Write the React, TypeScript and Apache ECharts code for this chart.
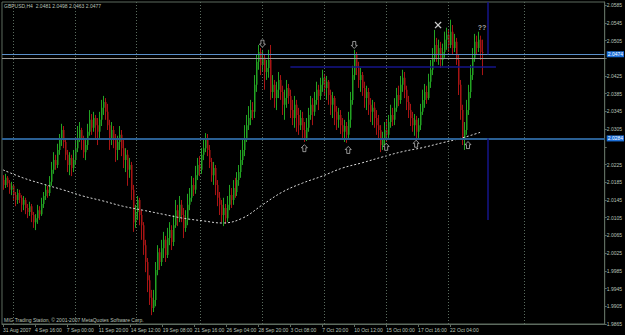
import React, { useEffect, useRef } from "react";
import * as echarts from "echarts";

// ---- data (GBPUSD H4) ----
const firstOpen = 2.019;
const closes = [
  2.0179, 2.0195, 2.0183, 2.0168, 2.0177, 2.0156, 2.0145, 2.0161, 2.015, 2.0134,
  2.0145, 2.0127, 2.0118, 2.0131, 2.0111, 2.0095, 2.0104, 2.0122, 2.0113, 2.0136,
  2.0154, 2.0168, 2.0161, 2.0186, 2.0213, 2.0235, 2.0224, 2.0258, 2.0281, 2.0303,
  2.0276, 2.0247, 2.0224, 2.024, 2.0217, 2.0235, 2.0262, 2.0285, 2.0303, 2.0281,
  2.0253, 2.0269, 2.0299, 2.0326, 2.0308, 2.033, 2.0314, 2.0299, 2.0326, 2.0353,
  2.0366, 2.0344, 2.0314, 2.0285, 2.0303, 2.0281, 2.0258, 2.0276, 2.0292, 2.0262,
  2.0235, 2.0247, 2.0213, 2.0224, 2.0168, 2.0095, 2.0118, 2.0145, 2.0111, 2.0088,
  2.0043, 2.0005, 1.9964, 1.9924, 1.9901, 1.9919, 1.9987, 2.0027, 2.0005, 2.0036,
  2.0055, 2.0021, 2.0059, 2.0077, 2.005, 2.0088, 2.0122, 2.0104, 2.0134, 2.0111,
  2.0082, 2.01, 2.0134, 2.015, 2.0179, 2.0168, 2.0201, 2.0224, 2.0213, 2.0247,
  2.0262, 2.0281, 2.0258, 2.0231, 2.0201, 2.0217, 2.0179, 2.015, 2.0134, 2.0111,
  2.0127, 2.0104, 2.0134, 2.0156, 2.0145, 2.0172, 2.0163, 2.019, 2.0208, 2.0235,
  2.0258, 2.0285, 2.0314, 2.033, 2.0348, 2.0344, 2.0405, 2.0457, 2.0479, 2.045,
  2.0466, 2.0434, 2.0443, 2.0461, 2.0389, 2.0405, 2.0375, 2.0394, 2.0416, 2.0389,
  2.036, 2.0375, 2.0398, 2.038, 2.0348, 2.033, 2.036, 2.0337, 2.0314, 2.033,
  2.0303, 2.0285, 2.0308, 2.0337, 2.036, 2.0344, 2.0371, 2.0394, 2.038, 2.0405,
  2.0421, 2.0398, 2.0412, 2.0382, 2.036, 2.0375, 2.0344, 2.0326, 2.0337, 2.0314,
  2.0299, 2.0312, 2.0292, 2.0326, 2.0371, 2.0427, 2.0473, 2.0443, 2.0416, 2.0427,
  2.0398, 2.0375, 2.0389, 2.036, 2.0344, 2.0353, 2.033, 2.0314, 2.0303, 2.0269,
  2.0281, 2.0303, 2.0292, 2.0321, 2.0337, 2.0326, 2.0353, 2.0382, 2.0371, 2.0405,
  2.0421, 2.0394, 2.0366, 2.0348, 2.033, 2.0314, 2.0326, 2.0299, 2.0314, 2.0344,
  2.0371, 2.0389, 2.0375, 2.0412, 2.0439, 2.0466, 2.0495, 2.0473, 2.0488, 2.0461,
  2.0479, 2.0507, 2.0518, 2.0495, 2.0525, 2.0488, 2.0502, 2.0461, 2.0405, 2.0348,
  2.0285, 2.0303, 2.0348, 2.0389, 2.0427, 2.0466, 2.0502, 2.0488, 2.0507, 2.0479, 2.0477,
];
const highs = [
  2.0201, 2.0204, 2.0199, 2.019, 2.0186, 2.0181, 2.0163, 2.017, 2.0168, 2.0156,
  2.0154, 2.015, 2.0136, 2.0141, 2.0136, 2.0118, 2.0113, 2.0134, 2.0131, 2.015,
  2.0163, 2.0181, 2.0177, 2.0199, 2.0231, 2.0253, 2.0247, 2.0272, 2.0294, 2.0317,
  2.0312, 2.0285, 2.0258, 2.0253, 2.0247, 2.0258, 2.0281, 2.0312, 2.0321, 2.0308,
  2.029, 2.0285, 2.0317, 2.0348, 2.0339, 2.0344, 2.0337, 2.033, 2.0344, 2.0371,
  2.038, 2.0375, 2.0362, 2.0326, 2.0321, 2.0312, 2.0294, 2.029, 2.0312, 2.0303,
  2.0281, 2.0262, 2.0258, 2.024, 2.0231, 2.0179, 2.0134, 2.0154, 2.015, 2.0122,
  2.0095, 2.0055, 2.0014, 1.9975, 1.9942, 1.9942, 2.0005, 2.0043, 2.0036, 2.0055,
  2.0073, 2.0064, 2.0082, 2.0095, 2.0088, 2.0111, 2.0145, 2.0134, 2.0154, 2.0145,
  2.0127, 2.0122, 2.0159, 2.0172, 2.0199, 2.0195, 2.0222, 2.024, 2.0244, 2.0262,
  2.0281, 2.0296, 2.0294, 2.0269, 2.024, 2.0231, 2.0224, 2.019, 2.0163, 2.0145,
  2.015, 2.0136, 2.0154, 2.0179, 2.0172, 2.019, 2.0195, 2.0208, 2.0224, 2.0258,
  2.0281, 2.0314, 2.0337, 2.0357, 2.0371, 2.0366, 2.0427, 2.0473, 2.0495, 2.0488,
  2.0484, 2.0473, 2.0461, 2.0484, 2.0495, 2.0427, 2.0416, 2.0412, 2.0434, 2.0427,
  2.0403, 2.0394, 2.0416, 2.0407, 2.0394, 2.0371, 2.038, 2.0371, 2.0353, 2.0348,
  2.0344, 2.0321, 2.033, 2.0353, 2.038, 2.0375, 2.0389, 2.0412, 2.0405, 2.0421,
  2.0439, 2.043, 2.0425, 2.0416, 2.0394, 2.0389, 2.038, 2.0357, 2.0353, 2.0348,
  2.033, 2.0326, 2.0321, 2.0344, 2.0389, 2.0448, 2.0484, 2.0479, 2.0457, 2.0443,
  2.0434, 2.0412, 2.0403, 2.0398, 2.0375, 2.0371, 2.0366, 2.0348, 2.0337, 2.0314,
  2.0299, 2.0321, 2.0326, 2.0337, 2.036, 2.0353, 2.0375, 2.0398, 2.0403, 2.0425,
  2.0439, 2.0434, 2.0403, 2.038, 2.0362, 2.0344, 2.0339, 2.0335, 2.033, 2.0362,
  2.0394, 2.0407, 2.0403, 2.043, 2.0461, 2.0488, 2.0529, 2.0511, 2.0507, 2.0502,
  2.0498, 2.0525, 2.0534, 2.0529, 2.0552, 2.054, 2.052, 2.0511, 2.0473, 2.0416,
  2.036, 2.0321, 2.0371, 2.0405, 2.045, 2.0488, 2.052, 2.0516, 2.0525, 2.0516, 2.0507,
];
const lows = [
  2.0168, 2.0172, 2.0174, 2.0159, 2.0156, 2.0145, 2.0131, 2.0136, 2.0138, 2.0118,
  2.0122, 2.0113, 2.0104, 2.0109, 2.0095, 2.0082, 2.0077, 2.0091, 2.01, 2.0109,
  2.0127, 2.0145, 2.015, 2.0154, 2.0177, 2.0204, 2.0213, 2.0217, 2.0247, 2.0267,
  2.0262, 2.0235, 2.0208, 2.0201, 2.0199, 2.0208, 2.0226, 2.0253, 2.0276, 2.0258,
  2.024, 2.0235, 2.0258, 2.029, 2.0292, 2.0299, 2.0281, 2.0269, 2.0285, 2.0312,
  2.0337, 2.0326, 2.0303, 2.0258, 2.0269, 2.0262, 2.0231, 2.0235, 2.0258, 2.0244,
  2.0217, 2.0208, 2.0177, 2.0195, 2.0145, 2.0073, 2.0082, 2.01, 2.0088, 2.0055,
  2.0021, 1.9982, 1.9937, 1.9908, 1.9885, 1.9892, 1.9905, 1.9975, 1.9987, 1.9996,
  2.0014, 2.0005, 2.0014, 2.0043, 2.0032, 2.0041, 2.0082, 2.0086, 2.0095, 2.0095,
  2.0059, 2.0073, 2.0088, 2.0122, 2.0141, 2.0154, 2.0159, 2.019, 2.0199, 2.0204,
  2.0235, 2.0253, 2.0244, 2.0217, 2.0186, 2.0179, 2.0156, 2.0131, 2.0111, 2.0095,
  2.0086, 2.0091, 2.0095, 2.0122, 2.0127, 2.0134, 2.015, 2.0154, 2.0177, 2.0195,
  2.0224, 2.0244, 2.0276, 2.0303, 2.0314, 2.0326, 2.033, 2.0389, 2.0439, 2.0427,
  2.0434, 2.0394, 2.0416, 2.0421, 2.0371, 2.0375, 2.0353, 2.0348, 2.0375, 2.0371,
  2.0337, 2.0326, 2.0353, 2.0362, 2.033, 2.0314, 2.0308, 2.0299, 2.0292, 2.0303,
  2.0285, 2.0276, 2.0278, 2.0299, 2.0326, 2.0314, 2.0335, 2.036, 2.0348, 2.0371,
  2.0389, 2.038, 2.0371, 2.036, 2.0337, 2.033, 2.0314, 2.0303, 2.0308, 2.0294,
  2.0281, 2.0276, 2.0274, 2.0281, 2.0308, 2.036, 2.0416, 2.0427, 2.0398, 2.0389,
  2.038, 2.0353, 2.0348, 2.0337, 2.0321, 2.0314, 2.0308, 2.0292, 2.0281, 2.0253,
  2.0258, 2.0267, 2.0276, 2.0285, 2.0308, 2.0312, 2.0314, 2.0344, 2.0357, 2.0362,
  2.0389, 2.0375, 2.0348, 2.033, 2.0312, 2.0299, 2.029, 2.0281, 2.0285, 2.0303,
  2.0337, 2.0353, 2.0362, 2.0371, 2.0398, 2.0427, 2.0457, 2.0457, 2.045, 2.0443,
  2.0448, 2.0466, 2.0484, 2.0479, 2.0488, 2.0473, 2.0479, 2.045, 2.0382, 2.0326,
  2.0269, 2.0258, 2.0292, 2.0337, 2.0375, 2.0416, 2.0457, 2.0473, 2.0479, 2.0461, 2.0427,
];

// moving average, sampled every 10 bars
const maIndex = [0, 10, 20, 30, 40, 50, 60, 70, 80, 90, 100, 110, 120, 130, 140, 150, 160, 170, 180, 190, 200, 210, 220, 230, 240];
const maValues = [2.0213, 2.0195, 2.0181, 2.0168, 2.0154, 2.0143, 2.0131, 2.0122, 2.0113, 2.0104, 2.0098, 2.0093, 2.0104, 2.0134, 2.0163, 2.0183, 2.0199, 2.0217, 2.0229, 2.0242, 2.0254, 2.0263, 2.0274, 2.0285, 2.0299];

// x-axis tick labels
const tickIndex = [0, 16, 32, 48, 64, 80, 96, 112, 128, 144, 160, 176, 192, 208, 224];
const tickLabels = [
  "31 Aug 2007", "4 Sep 16:00", "7 Sep 00:00", "11 Sep 20:00", "14 Sep 12:00",
  "19 Sep 08:00", "21 Sep 16:00", "26 Sep 04:00", "28 Sep 20:00", "3 Oct 08:00",
  "7 Oct 20:00", "10 Oct 12:00", "15 Oct 00:00", "17 Oct 16:00", "22 Oct 04:00",
];
const weekGridIndex = [5, 36, 67, 99, 130, 161, 192, 223, 261];

// levels & markers
const bidLevel = 2.0474;
const askLevel = 2.0466;
const supportLevel = 2.0284;
const resistanceLevel = 2.0446;
const resistanceRange = [144, 247];
const vLineIndex = 243;
const vLineLowEnd = 2.01;
const upArrows = [[151, 2.0262], [173, 2.0258], [192, 2.0265], [207, 2.0272], [233, 2.0269]];
const downArrows = [[130, 2.0498], [176, 2.0495]];
const crossMark = [[218, 2.054]];
const questionMark = [[240, 2.0534]];

const titleText = "GBPUSD,H4  2.0481 2.0498 2.0463 2.0477";
const footerText = "MIG Trading Station, © 2001-2007 MetaQuotes Software Corp.";

const BASE = 1.9865;
const TOP = 727;
const SLOTS = 302;
const toP = (p: number) => Math.round((p - BASE) * 100000) / 10;

const AX = "#5d6b5f";
const TXT = "#b9c3b9";
const FONT = "'Liberation Sans', Arial, sans-serif";
const UP = "#22a322";
const DOWN = "#a81414";

export default function App() {
  const ref = useRef<HTMLDivElement>(null);
  useEffect(() => {
    if (!ref.current) return;
    const chart = echarts.init(ref.current, null, { renderer: "svg" });
    const cats = Array.from({ length: SLOTS }, (_, i) => {
      const k = tickIndex.indexOf(i);
      return k >= 0 ? tickLabels[k] : "";
    });
    const bars = closes.map((c, i) => {
      const o = i === 0 ? firstOpen : closes[i - 1];
      const h = Math.max(highs[i], o, c);
      const l = Math.min(lows[i], o, c);
      return [i, toP(o), toP(c), toP(l), toP(h)];
    });
    const isTick = (i: number) => tickIndex.indexOf(i) >= 0;
    const hiddenLabels = [toP(bidLevel), toP(supportLevel)];
    const upPath = "path://M4,0 L8,4 L6,4 L6,9 L2,9 L2,4 L0,4 Z";
    const downPath = "path://M2,0 L6,0 L6,5 L8,5 L4,9 L0,5 L2,5 Z";
    const xPath = "path://M1,0 L4,3 L7,0 L8,1 L5,4 L8,7 L7,8 L4,5 L1,8 L0,7 L3,4 L0,1 Z";
    const boxLabel = (t: string) => ({
      show: true, position: "end", formatter: t, backgroundColor: "#1c6fd8", color: "#ffffff",
      fontSize: 5, padding: [1, 1, 0, 1], distance: 2, fontFamily: FONT,
    });
    const option: any = {
      animation: false,
      backgroundColor: "#000",
      textStyle: { fontFamily: FONT },
      grid: { left: 1, right: 19, top: 2, bottom: 11, show: true, borderColor: AX, borderWidth: 1, backgroundColor: "#000" },
      xAxis: {
        type: "category",
        data: cats,
        boundaryGap: true,
        axisLine: { lineStyle: { color: AX } },
        axisTick: { show: true, alignWithLabel: true, interval: (i: number) => isTick(i), length: 3, lineStyle: { color: AX } },
        axisLabel: { interval: (i: number) => isTick(i), align: "left", fontSize: 5, color: TXT, margin: 3, fontFamily: FONT },
        splitLine: { show: false },
      },
      yAxis: {
        type: "value",
        position: "right",
        min: 0,
        max: TOP,
        interval: 40,
        axisLine: { show: true, lineStyle: { color: AX } },
        axisTick: { show: true, length: 2, lineStyle: { color: AX } },
        axisLabel: {
          fontSize: 5,
          color: TXT,
          margin: 2,
          fontFamily: FONT,
          showMaxLabel: false,
          formatter: (v: number) =>
            hiddenLabels.some((h) => Math.abs(h - v) < 20) ? "" : (BASE + v / 10000).toFixed(4),
        },
        splitLine: { show: false },
      },
      series: [
        {
          type: "line",
          data: [],
          z: 1,
          markLine: {
            silent: true,
            symbol: "none",
            label: { show: false },
            lineStyle: { color: "#5a6b5e", type: [1, 2], width: 1 },
            data: weekGridIndex.map((i) => ({ xAxis: i })),
          },
        },
        {
          type: "custom",
          z: 3,
          data: bars,
          encode: { x: 0, y: [1, 2, 3, 4] },
          renderItem: (params: any, api: any) => {
            const i = api.value(0);
            const o = api.value(1), c = api.value(2), l = api.value(3), h = api.value(4);
            const pO = api.coord([i, o]);
            const pC = api.coord([i, c]);
            const pL = api.coord([i, l]);
            const pH = api.coord([i, h]);
            const x = Math.round(pO[0]) + 0.5;
            const col = c >= o ? UP : DOWN;
            const top = Math.min(pO[1], pC[1]);
            const hgt = Math.max(1, Math.abs(pO[1] - pC[1]));
            return {
              type: "group",
              children: [
                { type: "line", shape: { x1: x, y1: pH[1], x2: x, y2: pL[1] }, style: { stroke: col, lineWidth: 1 } },
                { type: "rect", shape: { x: x - 0.5, y: top, width: 1.5, height: hgt }, style: { fill: col } },
              ],
            };
          },
        },
        {
          type: "line",
          data: maIndex.map((i, k) => [i, toP(maValues[k])]),
          smooth: 0.4,
          symbol: "none",
          z: 4,
          lineStyle: { color: "#d8d8d8", width: 1, type: [2, 2] },
        },
        {
          type: "line",
          data: [],
          z: 5,
          markLine: {
            silent: true,
            symbol: "none",
            label: { show: false },
            data: [
              { yAxis: toP(bidLevel), lineStyle: { color: "#5a8fc8", width: 1, type: "solid" }, label: boxLabel(bidLevel.toFixed(4)) },
              { yAxis: toP(askLevel), lineStyle: { color: "#9a9a9a", width: 1, type: "solid" } },
              { yAxis: toP(supportLevel), lineStyle: { color: "#2a5f93", width: 2, type: "solid" }, label: boxLabel(supportLevel.toFixed(4)) },
              [
                { coord: [resistanceRange[0], toP(resistanceLevel)], lineStyle: { color: "#14148a", width: 1.5, type: "solid" } },
                { coord: [resistanceRange[1], toP(resistanceLevel)] },
              ],
              [
                { coord: [vLineIndex, TOP], lineStyle: { color: "#14148a", width: 1.5, type: "solid" } },
                { coord: [vLineIndex, toP(bidLevel)] },
              ],
              [
                { coord: [vLineIndex, toP(supportLevel)], lineStyle: { color: "#14148a", width: 1.5, type: "solid" } },
                { coord: [vLineIndex, toP(vLineLowEnd)] },
              ],
            ],
          },
        },
        {
          type: "scatter",
          z: 6,
          symbol: upPath,
          symbolSize: [6, 7],
          itemStyle: { color: "#000", borderColor: "#e0e0e0", borderWidth: 0.8 },
          data: upArrows.map(([i, p]) => [i, toP(p)]),
        },
        {
          type: "scatter",
          z: 6,
          symbol: downPath,
          symbolSize: [6, 7],
          itemStyle: { color: "#000", borderColor: "#e0e0e0", borderWidth: 0.8 },
          data: downArrows.map(([i, p]) => [i, toP(p)]),
        },
        {
          type: "scatter",
          z: 6,
          symbol: xPath,
          symbolSize: 7,
          itemStyle: { color: "#ffffff" },
          data: crossMark.map(([i, p]) => [i, toP(p)]),
        },
        {
          type: "scatter",
          z: 6,
          symbolSize: 0,
          label: { show: true, position: "inside", formatter: "??", color: "#d0d0d0", fontSize: 7, fontWeight: "bold", fontFamily: FONT },
          data: questionMark.map(([i, p]) => [i, toP(p)]),
        },
      ],
      graphic: [
        { type: "text", left: 4, top: 3, style: { text: titleText, fill: TXT, fontSize: 5, fontFamily: FONT } },
        { type: "text", left: 4, top: 317, style: { text: footerText, fill: TXT, fontSize: 5, fontFamily: FONT } },
      ],
    };
    chart.setOption(option);
    return () => chart.dispose();
  }, []);
  return <div ref={ref} style={{ position: "fixed", left: 0, top: 0, width: 625, height: 335 }} />;
}
